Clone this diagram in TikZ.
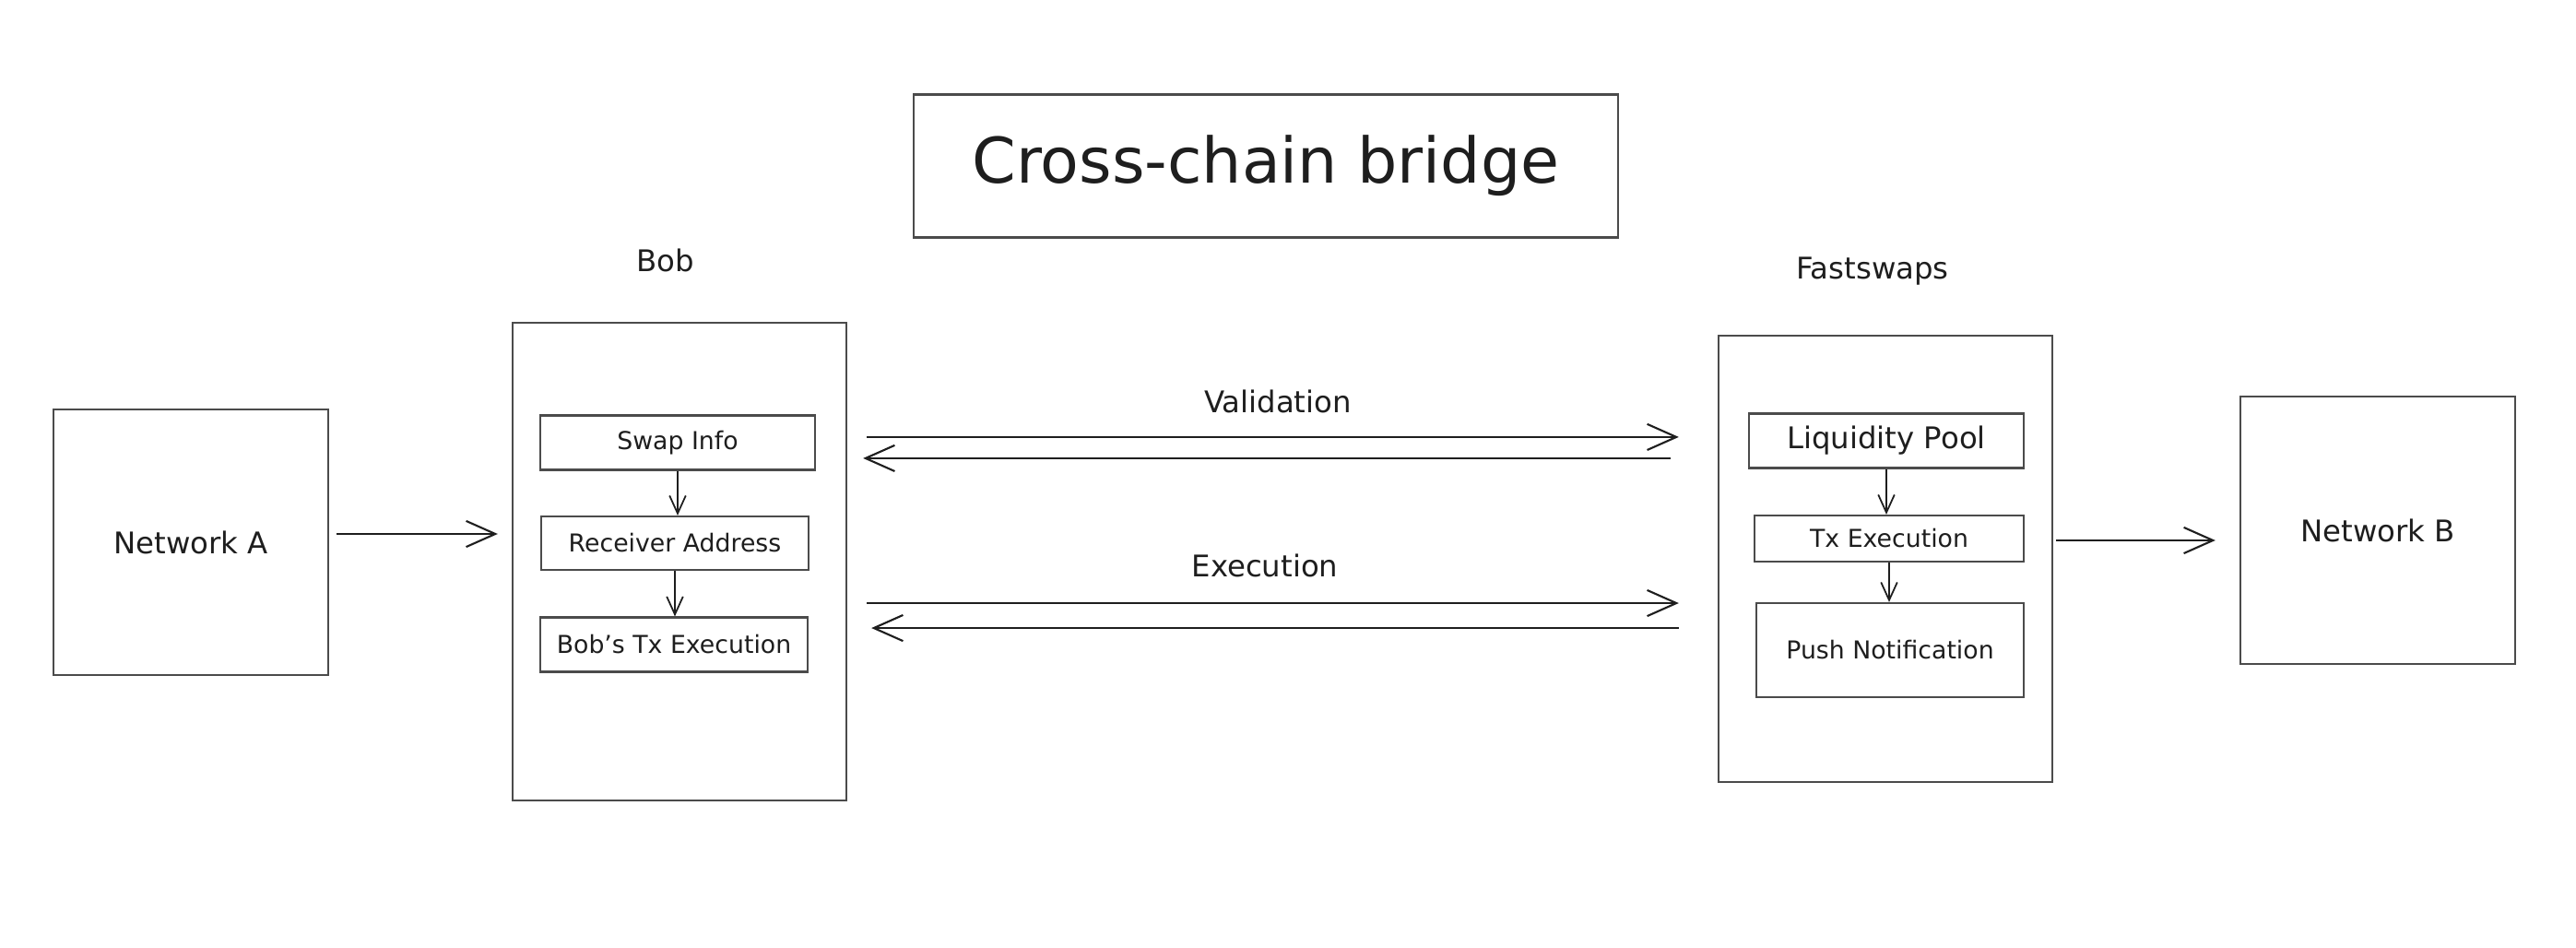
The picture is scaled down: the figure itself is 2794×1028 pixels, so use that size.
\documentclass[tikz,border=0pt]{standalone}
\usepackage{fontspec}
\setmainfont{DejaVu Sans}
\usetikzlibrary{arrows.meta}
\definecolor{ink}{HTML}{1E1E1E}

\begin{document}
\begin{tikzpicture}[x=0.01cm, y=-0.01cm,
	box/.style={draw=ink!80, line width=0.6pt, rectangle, inner sep=0pt, text=ink},
	small/.style={font=\fontsize{7.6}{9}\selectfont, text=ink},
	mid/.style={font=\fontsize{9.2}{11}\selectfont, text=ink},
	arr/.style={-{Straight Barb[length=9pt,width=8pt]}, line width=0.6pt, draw=ink},
	sarr/.style={-{Straight Barb[length=5.5pt,width=5pt]}, line width=0.5pt, draw=ink}]

% page
\fill[white] (0,0) rectangle (2794,1028);
\useasboundingbox (0,0) rectangle (2794,1028);

% title
\node[box, minimum width=7.63cm, minimum height=1.55cm, font=\fontsize{19.4}{23}\selectfont] (title) at (1373,180) {Cross-chain bridge\hspace{0.3cm}};

% networks
\node[box, mid, minimum width=2.97cm, minimum height=2.88cm] (netA) at (207,588) {Network A};
\node[box, mid, minimum width=2.98cm, minimum height=2.90cm] (netB) at (2579,575) {Network B};

% Bob
\node[box, minimum width=3.62cm, minimum height=5.17cm] (bob) at (737,609) {};
\node[mid] (boblabel) at (722,282) {Bob};
\node[box, small, minimum width=2.98cm, minimum height=0.59cm] (swap) at (735,480) {Swap Info};
\node[box, small, minimum width=2.90cm, minimum height=0.58cm] (recv) at (732,589) {Receiver Address};
\node[box, small, minimum width=2.90cm, minimum height=0.59cm] (bobtx) at (731,699) {Bob's Tx Execution};

\draw[sarr] (swap.south) -- (swap.south |- recv.north);
\draw[sarr] (recv.south) -- (recv.south |- bobtx.north);

% Fastswaps
\node[box, minimum width=3.62cm, minimum height=4.84cm] (fast) at (2045,606) {};
\node[mid] (fastlabel) at (2031,294) {Fastswaps};
\node[box, mid, minimum width=2.97cm, minimum height=0.59cm] (pool) at (2046,478) {Liquidity Pool};
\node[box, small, minimum width=2.92cm, minimum height=0.50cm] (txex) at (2049,584) {Tx Execution};
\node[box, small, minimum width=2.90cm, minimum height=1.02cm] (push) at (2050,705) {Push Notification};

\draw[sarr] (pool.south) -- (pool.south |- txex.north);
\draw[sarr] (txex.south) -- (txex.south |- push.north);

% in and out
\draw[arr, shorten <=0.08cm, shorten >=0.15cm] ([yshift=0.09cm]netA.east) -- ([yshift=0.09cm]netA.east -| bob.west);
\draw[arr, shorten <=0.03cm, shorten >=0.26cm] ([yshift=0.20cm]fast.east) -- ([yshift=0.20cm]fast.east -| netB.west);

% Validation
\node[mid] (vallabel) at (1386,435) {Validation}; %label
\draw[arr, shorten <=0.21cm, shorten >=0.42cm] ([yshift=1.35cm]bob.east) -- ([yshift=1.35cm]bob.east -| fast.west);
\draw[arr, shorten <=0.51cm, shorten >=0.17cm] ([yshift=1.12cm]bob.east -| fast.west) -- ([yshift=1.12cm]bob.east);

% Execution
\node[mid] (exelabel) at (1372,613) {Execution}; %label
\draw[arr, shorten <=0.21cm, shorten >=0.42cm] ([yshift=-0.45cm]bob.east) -- ([yshift=-0.45cm]bob.east -| fast.west);
\draw[arr, shorten <=0.42cm, shorten >=0.26cm] ([yshift=-0.72cm]bob.east -| fast.west) -- ([yshift=-0.72cm]bob.east);

\end{tikzpicture}
\end{document}
